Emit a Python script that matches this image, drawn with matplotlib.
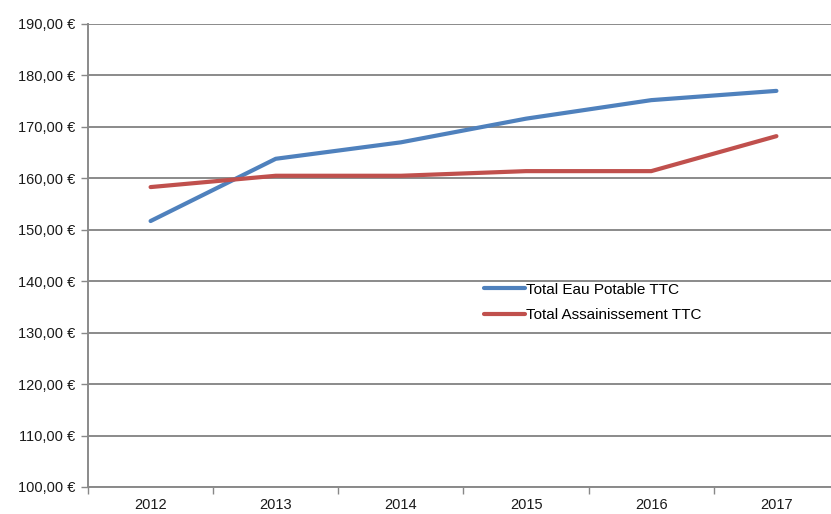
import matplotlib.pyplot as plt
from matplotlib.ticker import FuncFormatter, FixedLocator

years = ["2012", "2013", "2014", "2015", "2016", "2017"]
eau_potable = [151.7, 163.8, 167.0, 171.6, 175.2, 177.0]
assainissement = [158.3, 160.5, 160.5, 161.4, 161.4, 168.2]

plt.rcParams['font.family'] = ['Liberation Sans', 'DejaVu Sans']

fig = plt.figure(figsize=(8.31, 5.14), dpi=100)
ax = fig.add_axes([88 / 831, 1 - 487 / 514, 751 / 831, 463 / 514])

x = list(range(len(years)))
ax.plot(x, eau_potable, color='#4F81BD', lw=3, label='Total Eau Potable TTC', solid_capstyle='round')
ax.plot(x, assainissement, color='#C0504D', lw=3, label='Total Assainissement TTC', solid_capstyle='round')

ax.set_xlim(-0.5, len(years) - 0.5)
ax.set_ylim(100, 190)
ax.set_yticks(range(100, 191, 10))
ax.yaxis.set_major_formatter(FuncFormatter(lambda v, p: f"{v:.2f}".replace('.', ',') + " €"))

ax.set_xticks(x)
ax.set_xticklabels(years)
ax.xaxis.set_minor_locator(FixedLocator([i - 0.5 for i in range(len(years) + 1)]))
ax.tick_params(axis='x', which='major', length=0, pad=8, labelsize=10.5, colors='#1a1a1a')
ax.tick_params(axis='x', which='minor', length=5, color='#888888', width=1)
ax.tick_params(axis='y', length=5, color='#888888', width=1, labelsize=10.5, labelcolor='#1a1a1a', pad=4)

ax.grid(axis='y', color='#8a8a8a', lw=1.4)
ax.set_axisbelow(True)
for s in ['top', 'right']:
    ax.spines[s].set_visible(False)
for s in ['left', 'bottom']:
    ax.spines[s].set_color('#8a8a8a')
    ax.spines[s].set_linewidth(1.4)

ax.legend(loc='upper left', bbox_to_anchor=(476 / 831, 1 - 275 / 514), bbox_transform=fig.transFigure,
          frameon=False, fontsize=11, handlelength=2.7, handletextpad=0.1, labelspacing=0.75,
          borderpad=0)

fig.savefig('out.png', dpi=100)
